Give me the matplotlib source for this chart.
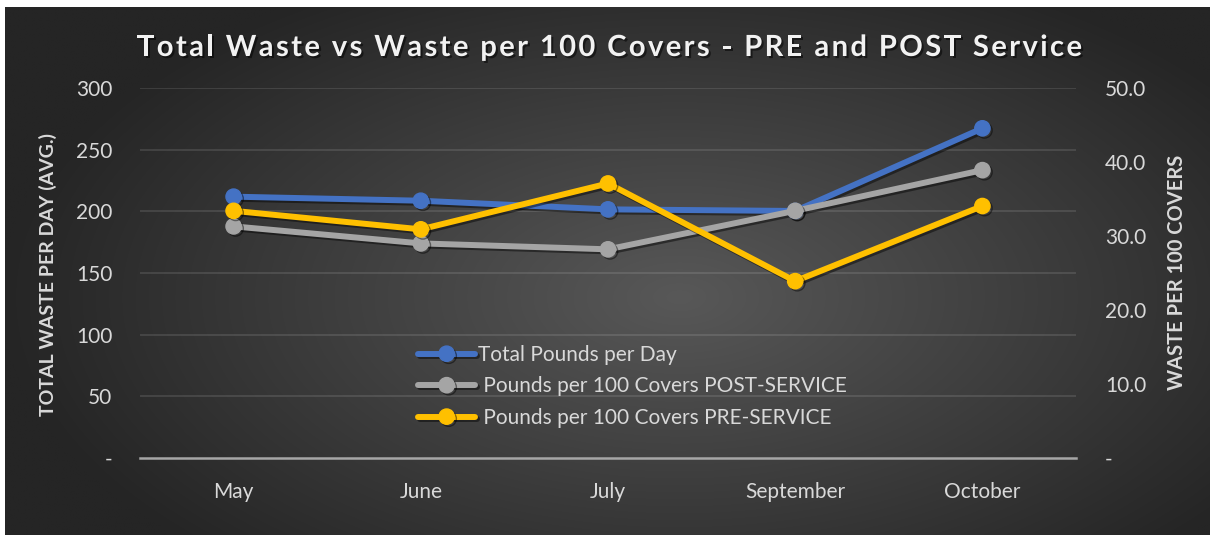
import numpy as np
import matplotlib
matplotlib.use("Agg")
import matplotlib.pyplot as plt
import matplotlib.patheffects as pe
from matplotlib.ticker import FixedLocator, FuncFormatter

# ---- data ----
months = ["May", "June", "July", "September", "October"]
total_pounds_per_day = [211.9, 208.6, 201.6, 200.3, 267.3]
post_service_per_100 = [31.3, 29.0, 28.2, 33.4, 38.9]
pre_service_per_100 = [33.4, 30.9, 37.1, 23.9, 34.05]
left_ticks = [0, 50, 100, 150, 200, 250, 300]
right_ticks = [0, 10, 20, 30, 40, 50]
labels = ["Total Pounds per Day", " Pounds per 100 Covers POST-SERVICE",
          " Pounds per 100 Covers PRE-SERVICE"]
title = "Total Waste vs Waste per 100 Covers - PRE and POST Service"

W, H = 1210, 536
plt.rcParams['font.family'] = ['Lato', 'DejaVu Sans']
fig = plt.figure(figsize=(W / 100, H / 100), dpi=100)
fig.patch.set_facecolor("white")

# background gradient panel
bg = fig.add_axes([5 / W, 1 - 535 / H, 1205 / W, 528 / H])
bg.set_axis_off()
yy, xx = np.mgrid[0:1:300j, 0:1:600j]
d = np.sqrt(((xx - 0.56) / 0.75) ** 2 + ((yy - 0.55) / 0.9) ** 2)
d = np.clip(d / 0.75, 0, 1)
c_in = np.array([0x58, 0x58, 0x58]) / 255
c_out = np.array([0x25, 0x25, 0x25]) / 255
img = c_in[None, None, :] * (1 - d[..., None]) + c_out[None, None, :] * d[..., None]
bg.imshow(img, aspect="auto", extent=[0, 1, 0, 1], interpolation="bilinear")

# main axes
L, R, T, B = 140, 1076, 88, 458
ax = fig.add_axes([L / W, 1 - B / H, (R - L) / W, (B - T) / H])
ax.set_facecolor("none")
x = np.arange(len(months))
ax.set_xlim(-0.5, len(months) - 0.5)
ax.set_ylim(0, 300)
for s in ["top", "right", "left"]:
    ax.spines[s].set_visible(False)
ax.spines["bottom"].set_color("#a6a6a6")
ax.spines["bottom"].set_linewidth(1.8)
ax.yaxis.set_major_locator(FixedLocator(left_ticks))
ax.yaxis.set_major_formatter(FuncFormatter(lambda v, p: "-" if v == 0 else f"{int(v)}"))
ax.set_xticks(x)
ax.set_xticklabels(months)
ax.tick_params(axis="both", length=0, labelsize=15, colors="#d9d9d9")
ax.tick_params(axis="y", pad=20)
ax.tick_params(axis="x", pad=17.5)
for v in left_ticks[1:]:
    ax.axhline(v, color="white", alpha=0.13, lw=1.2, zorder=0)

shadow = [pe.SimpleLineShadow(offset=(1.5, -1.5), shadow_color="black", alpha=0.45), pe.Normal()]

l1, = ax.plot(x, total_pounds_per_day, color="#4472C4", lw=4.3, marker="o", ms=11,
              solid_capstyle="round", path_effects=shadow, zorder=3)

ax2 = ax.twinx()
ax2.set_facecolor("none")
ax2.set_ylim(0, 50)
for s in ax2.spines.values():
    s.set_visible(False)
ax2.yaxis.set_major_locator(FixedLocator(right_ticks))
ax2.yaxis.set_major_formatter(FuncFormatter(lambda v, p: "-" if v == 0 else f"{v:.1f}"))
ax2.tick_params(axis="y", length=0, labelsize=15, colors="#d9d9d9", pad=21)

l2, = ax2.plot(x, post_service_per_100, color="#A5A5A5", lw=4.3, marker="o", ms=11,
               solid_capstyle="round", path_effects=shadow, zorder=3)
l3, = ax2.plot(x, pre_service_per_100, color="#FFC000", lw=4.3, marker="o", ms=11,
               solid_capstyle="round", path_effects=shadow, zorder=4)

leg = ax2.legend([l1, l2, l3], labels, loc="upper left",
                 bbox_to_anchor=(418 / W, 1 - 345 / H), bbox_transform=fig.transFigure,
                 frameon=False, fontsize=15, handlelength=2.75, handletextpad=0.15,
                 labelspacing=0.55, borderpad=0, borderaxespad=0)
for t in leg.get_texts():
    t.set_color("#d9d9d9")

# title with letter spacing: place characters individually
renderer = fig.canvas.get_renderer()
tkw = dict(fontsize=21, fontweight="bold", color="#f2f2f2", va="center", ha="left",
           path_effects=[pe.withSimplePatchShadow(offset=(1.5, -1.5), shadow_rgbFace="black", alpha=0.5)])
def char_width(ch):
    if ch == " ":
        a = fig.text(0, 0, "a a", **tkw); b = fig.text(0, 0, "aa", **tkw)
        w = a.get_window_extent(renderer).width - b.get_window_extent(renderer).width
        a.remove(); b.remove()
        return w
    t = fig.text(0, 0, ch, **tkw)
    w = t.get_window_extent(renderer).width
    t.remove()
    return w
widths = [char_width(c) for c in title]
x_start, x_end = 137, 1082
extra = (x_end - x_start - sum(widths)) / (len(title) - 1)
xpos = x_start
for ch, w in zip(title, widths):
    if ch != " ":
        fig.text(xpos / W, 1 - 48 / H, ch, **tkw)
    xpos += w + extra

fig.text(48 / W, 1 - 274 / H, "TOTAL WASTE PER DAY (AVG.)", rotation=90, ha="center",
         va="center", fontsize=14, fontweight="bold", color="#d9d9d9")
fig.text(1177 / W, 1 - 272 / H, "WASTE PER 100 COVERS", rotation=90, ha="center",
         va="center", fontsize=14.5, fontweight="bold", color="#d9d9d9")

fig.savefig("out.png", dpi=100, facecolor="white")
